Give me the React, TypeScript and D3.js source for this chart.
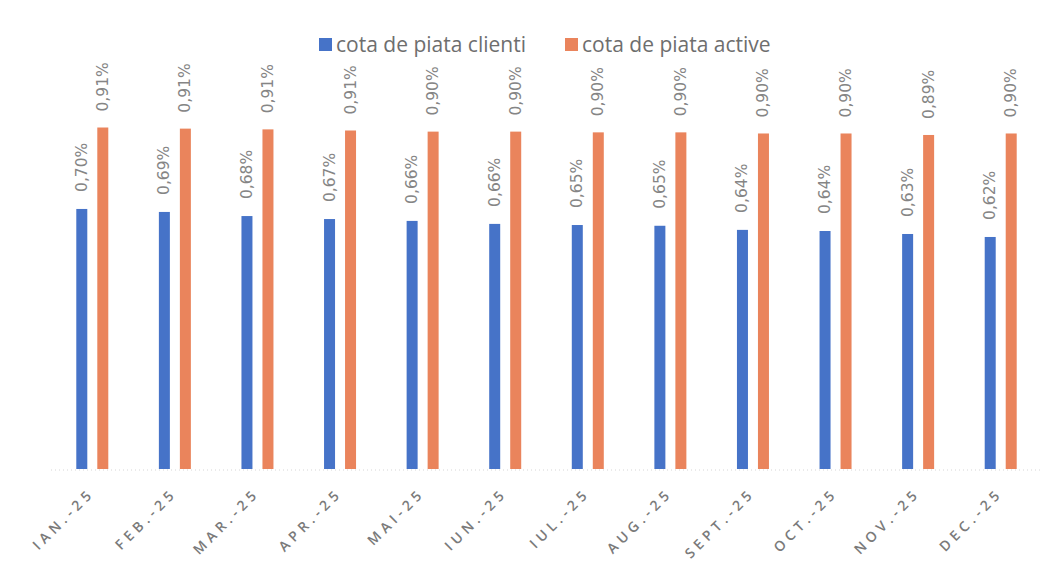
import * as d3 from "d3";

const months = ["IAN.-25", "FEB.-25", "MAR.-25", "APR.-25", "MAI-25", "IUN.-25", "IUL.-25", "AUG.-25", "SEPT.-25", "OCT.-25", "NOV.-25", "DEC.-25"];
const clienti = [0.696, 0.688, 0.677, 0.669, 0.664, 0.656, 0.653, 0.651, 0.64, 0.637, 0.629, 0.621];
const active = [0.914, 0.911, 0.909, 0.906, 0.903, 0.903, 0.901, 0.901, 0.898, 0.898, 0.894, 0.898];
const labelsClienti = ["0,70%", "0,69%", "0,68%", "0,67%", "0,66%", "0,66%", "0,65%", "0,65%", "0,64%", "0,64%", "0,63%", "0,62%"];
const labelsActive = ["0,91%", "0,91%", "0,91%", "0,91%", "0,90%", "0,90%", "0,90%", "0,90%", "0,90%", "0,90%", "0,89%", "0,90%"];
const seriesNames = ["cota de piata clienti", "cota de piata active"];

const W = 1064,
  H = 579;
const BLUE = "#4673c8",
  ORANGE = "#ea845c",
  GRAY = "#858585";

export default function App() {
  const x = d3.scaleBand().domain(months).range([51, 1042]);
  const y = d3.scaleLinear().domain([0, 0.91]).range([469, 129]);
  const bw = 11,
    off = 10.5;
  const fontLbl = "'DejaVu Sans', sans-serif";

  return (
    <svg width={W} height={H} style={{ position: "absolute", left: 0, top: 0, background: "#fff" }}>
      {/* legend */}
      <g fontFamily="'Open Sans', sans-serif" fontSize={21} fill="#6e6e6e">
        <rect x={319} y={38} width={13} height={13} fill={BLUE} />
        <text x={336} y={52}>{seriesNames[0]}</text>
        <rect x={565} y={38} width={13} height={13} fill={ORANGE} />
        <text x={582} y={52}>{seriesNames[1]}</text>
      </g>

      {/* baseline */}
      <line x1={51} x2={1042} y1={470} y2={470} stroke="#d6d6d6" strokeDasharray="1 3" />

      {months.map((m, i) => {
        const cx = x(m)! + x.bandwidth() / 2;
        const bx = cx - off,
          ox = cx + off;
        return (
          <g key={m}>
            <rect x={bx - bw / 2} y={y(clienti[i])} width={bw} height={y(0) - y(clienti[i])} fill={BLUE} />
            <rect x={ox - bw / 2} y={y(active[i])} width={bw} height={y(0) - y(active[i])} fill={ORANGE} />
            <text
              transform={`translate(${bx + 5},${y(clienti[i]) - 17}) rotate(-90)`}
              fontFamily={fontLbl}
              fontSize={15.5}
              fill={GRAY}
            >
              {labelsClienti[i]}
            </text>
            <text
              transform={`translate(${ox + 5},${y(active[i]) - 16}) rotate(-90)`}
              fontFamily={fontLbl}
              fontSize={15.5}
              fill={GRAY}
            >
              {labelsActive[i]}
            </text>
            <text
              transform={`translate(${cx + 3},${494}) rotate(-45)`}
              textAnchor="end"
              fontFamily="'Open Sans', sans-serif"
              fontSize={14}
              fontWeight={600}
              letterSpacing={4.5}
              fill="#7a7a7a"
            >
              {m}
            </text>
          </g>
        );
      })}
    </svg>
  );
}
